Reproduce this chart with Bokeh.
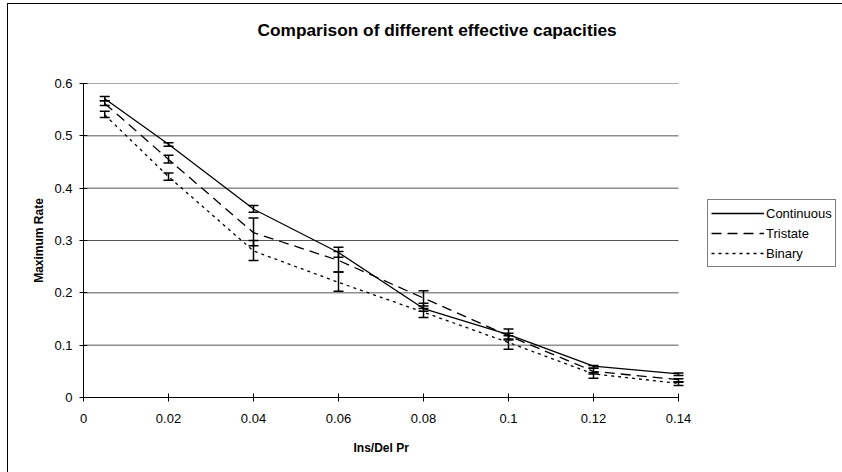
from bokeh.plotting import figure
from bokeh.models import (ColumnDataSource, Whisker, TeeHead, Legend, LegendItem, Title,
                          FixedTicker, Range1d)
from bokeh.embed import file_html
from bokeh.resources import INLINE

# ---- data ----
x_vals = [0.005, 0.02, 0.04, 0.06, 0.08, 0.1, 0.12, 0.14]

continuous = [0.571, 0.484, 0.360, 0.277, 0.170, 0.120, 0.060, 0.045]
continuous_lo = [0.567, 0.480, 0.354, 0.268, 0.165, 0.112, 0.056, 0.042]
continuous_hi = [0.575, 0.487, 0.367, 0.287, 0.180, 0.131, 0.061, 0.047]

tristate = [0.562, 0.455, 0.315, 0.262, 0.190, 0.118, 0.050, 0.034]
tristate_lo = [0.558, 0.448, 0.290, 0.240, 0.175, 0.110, 0.045, 0.029]
tristate_hi = [0.567, 0.463, 0.343, 0.279, 0.204, 0.123, 0.056, 0.036]

binary = [0.540, 0.422, 0.280, 0.220, 0.163, 0.105, 0.045, 0.027]
binary_lo = [0.535, 0.415, 0.262, 0.203, 0.153, 0.092, 0.037, 0.023]
binary_hi = [0.547, 0.429, 0.300, 0.240, 0.170, 0.118, 0.048, 0.030]

series_names = ["Continuous", "Tristate", "Binary"]

x_ticks = [0, 0.02, 0.04, 0.06, 0.08, 0.1, 0.12, 0.14]
x_tick_labels = ["0", "0.02", "0.04", "0.06", "0.08", "0.1", "0.12", "0.14"]
y_ticks = [0, 0.1, 0.2, 0.3, 0.4, 0.5, 0.6]
y_tick_labels = ["0", "0.1", "0.2", "0.3", "0.4", "0.5", "0.6"]

title_text = "Comparison of different effective capacities"
x_title = "Ins/Del Pr"
y_title = "Maximum Rate"

FONT = "Liberation Sans"

# plot area spans 83..678 px for the data; the frame is extended to the right to hold the legend
FRAME_L, DATA_R, FRAME_R = 83, 678, 838
x_end = x_ticks[-1] * (FRAME_R - FRAME_L) / (DATA_R - FRAME_L)

p = figure(width=842, height=472, output_backend="svg", toolbar_location=None,
           x_range=Range1d(0, x_end), y_range=Range1d(y_ticks[0], y_ticks[-1]),
           min_border_left=FRAME_L, min_border_right=842 - FRAME_R,
           min_border_top=83, min_border_bottom=75)
p.title.text = ""
p.title.visible = False
p.outline_line_color = None
p.background_fill_color = "white"
p.border_fill_color = None
p.styles = {
    "background": "linear-gradient(#000,#000) 7px 3px / 1px 100% no-repeat, "
                  "linear-gradient(#000,#000) 7px 3px / 100% 1px no-repeat, white",
}

# axes
for ax, ticks, labels in ((p.xaxis[0], x_ticks, x_tick_labels), (p.yaxis[0], y_ticks, y_tick_labels)):
    ax.ticker = FixedTicker(ticks=ticks)
    ax.major_label_overrides = {t: l for t, l in zip(ticks, labels)}
    ax.minor_tick_line_color = None
    ax.major_tick_in = 4
    ax.major_tick_out = 4
    ax.axis_line_color = "black"
    ax.major_tick_line_color = "black"
    ax.major_label_text_font = FONT
    ax.major_label_text_font_size = "13px"
    ax.major_label_text_color = "black"
    ax.axis_label_text_font = FONT
    ax.axis_label_text_font_size = "12px"
    ax.axis_label_text_font_style = "bold"
    ax.axis_label_text_color = "black"

p.xaxis.bounds = (x_ticks[0], x_ticks[-1])
p.yaxis.axis_label = y_title
p.xaxis.major_label_standoff = 12
p.yaxis.major_label_standoff = 7
p.yaxis.axis_label_standoff = 5

# horizontal gridlines limited to the data area
p.xgrid.visible = False
p.ygrid.visible = False
gy = y_ticks[1:]
p.segment(x0=[x_ticks[0]] * len(gy), x1=[x_ticks[-1]] * len(gy), y0=gy, y1=gy,
          line_color="#555555", line_width=1, level="underlay")

dashes = ["solid", "10 6", "3 4"]
data = [(continuous, continuous_lo, continuous_hi),
        (tristate, tristate_lo, tristate_hi),
        (binary, binary_lo, binary_hi)]

items = []
for name, dash, (ys, lo, hi) in zip(series_names, dashes, data):
    src = ColumnDataSource(dict(x=x_vals, y=ys, lo=lo, hi=hi))
    r = p.line("x", "y", source=src, line_color="black", line_width=1.3, line_dash=dash)
    w = Whisker(base="x", lower="lo", upper="hi", source=src,
                line_color="black", line_width=1.5,
                upper_head=TeeHead(size=10, line_color="black", line_width=1.5),
                lower_head=TeeHead(size=10, line_color="black", line_width=1.5))
    p.add_layout(w)
    items.append(LegendItem(label=name, renderers=[r]))

legend = Legend(items=items, location=(624, 130), orientation="vertical",
                glyph_width=53, glyph_height=20, label_height=20, label_standoff=2,
                spacing=0, padding=3, margin=0,
                label_text_font=FONT, label_text_font_size="13px", label_text_color="black",
                border_line_color="black", border_line_width=1,
                background_fill_color="white", background_fill_alpha=1)
p.add_layout(legend)

# spacer (nearest the frame) then the real title above it
p.add_layout(Title(text=" ", text_font_size="10px", standoff=31), "above")
p.add_layout(Title(text=title_text, align="left", offset=174, standoff=0,
                   vertical_align="bottom", text_font=FONT, text_font_size="17.3px",
                   text_font_style="bold", text_color="black"), "above")

# x-axis title, centred under the data area
p.add_layout(Title(text=x_title, align="left", offset=270, standoff=30,
                   vertical_align="top", text_font=FONT, text_font_size="12px",
                   text_font_style="bold", text_color="black"), "below")

open("out.html", "w").write(file_html(p, INLINE))
